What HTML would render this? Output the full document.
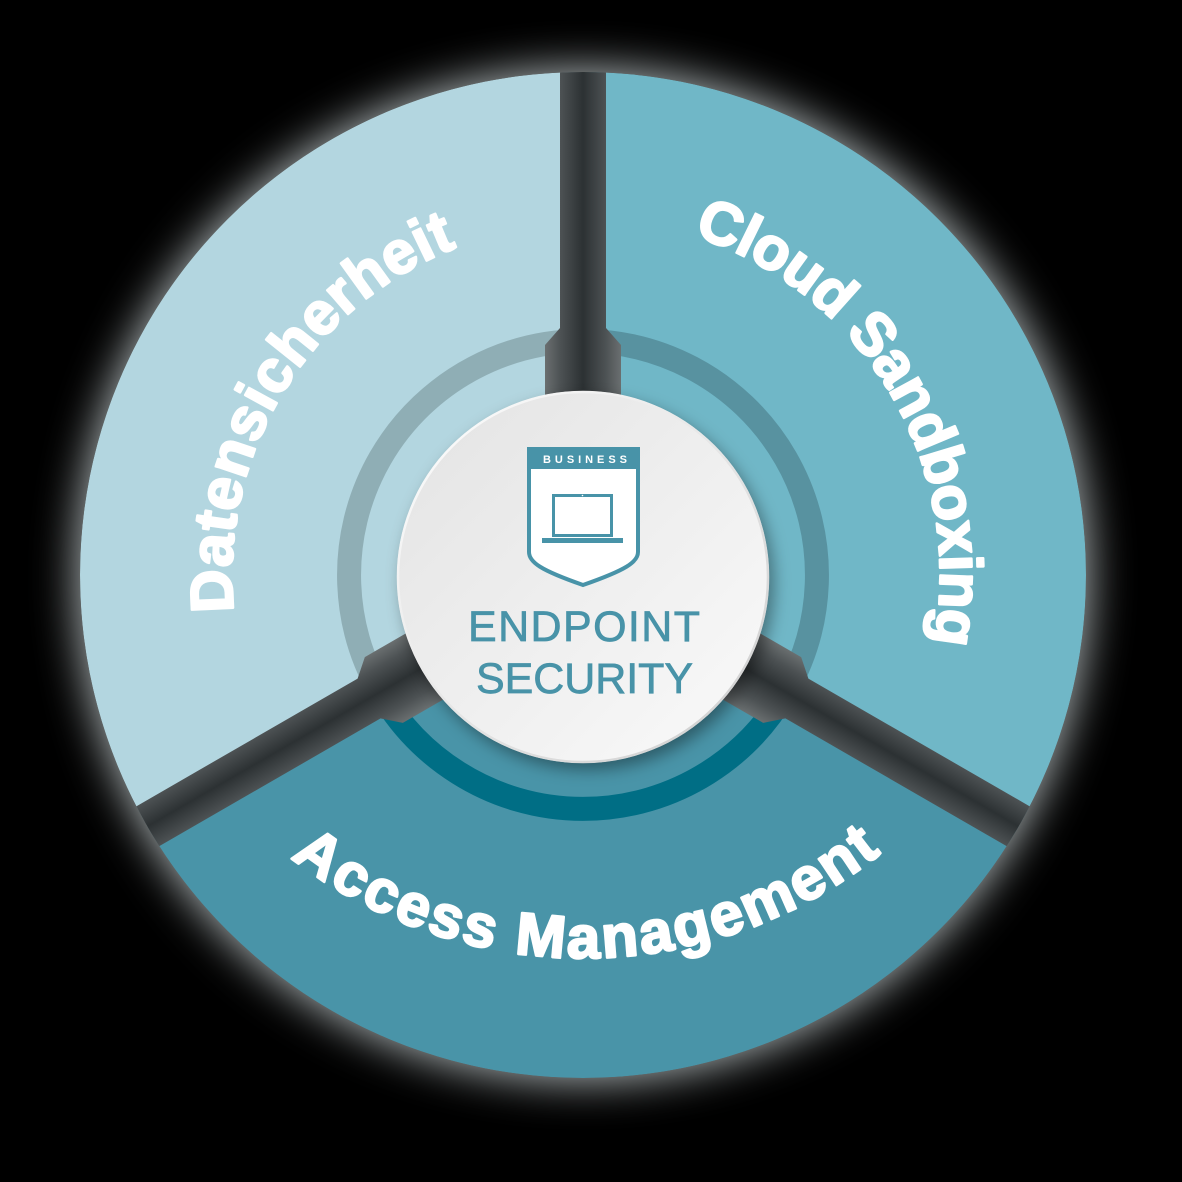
<!DOCTYPE html>
<html>
<head>
<meta charset="utf-8">
<style>
  html, body { margin: 0; padding: 0; background: #000; }
  svg { display: block; }
</style>
</head>
<body>
<svg width="1182" height="1182" viewBox="0 0 1182 1182" xmlns="http://www.w3.org/2000/svg">
  <defs>
    <filter id="glow" x="-30%" y="-30%" width="160%" height="160%">
      <feGaussianBlur stdDeviation="22"/>
    </filter>
    <filter id="ds" x="-30%" y="-30%" width="160%" height="160%">
      <feDropShadow dx="5" dy="7" stdDeviation="8" flood-color="#000" flood-opacity="0.38"/>
    </filter>
    <linearGradient id="gg" gradientUnits="userSpaceOnUse" x1="545" y1="0" x2="621" y2="0">
      <stop offset="0" stop-color="#6a6f70"/>
      <stop offset="0.2" stop-color="#4d5254"/>
      <stop offset="0.5" stop-color="#2c3133"/>
      <stop offset="0.8" stop-color="#4d5254"/>
      <stop offset="1" stop-color="#6a6f70"/>
    </linearGradient>
    <clipPath id="outer"><circle cx="583" cy="575" r="503"/></clipPath>
    <linearGradient id="wc" x1="0" y1="0" x2="1" y2="1">
      <stop offset="0" stop-color="#e3e3e3"/>
      <stop offset="1" stop-color="#fafafa"/>
    </linearGradient>
    <linearGradient id="wr" x1="0" y1="0" x2="1" y2="1">
      <stop offset="0" stop-color="#ffffff"/>
      <stop offset="1" stop-color="#cdcdcd"/>
    </linearGradient>
    <polygon id="gap" points="545,577 545,345 560,328 560,60 606,60 606,328 621,345 621,577"/>
    <path id="pD" d="M233.9,611.7 A351,351 0 0 1 522.1,229.3"/>
    <path id="pC" d="M693.3,235.5 A357,357 0 0 1 918.5,697.1"/>
    <path id="pA" d="M290.6,857.6 A476,476 0 0 0 919.6,818.6"/>
  </defs>

  <rect x="0" y="0" width="1182" height="1182" fill="#000"/>

  <!-- outer glow -->
  <circle cx="583" cy="575" r="505" fill="#b4bcbe" filter="url(#glow)"/>

  <g clip-path="url(#outer)">
    <!-- segments -->
    <path d="M583,575 L583,72 A503,503 0 0 0 147.4,826.5 Z" fill="#b3d6e0"/>
    <path d="M583,575 L583,72 A503,503 0 0 1 1018.6,826.5 Z" fill="#70b7c7"/>
    <path d="M583,575 L147.4,826.5 A503,503 0 0 0 1018.6,826.5 Z" fill="#4994a8"/>

    <!-- inner rings -->
    <path d="M583,341 A234,234 0 0 0 380.4,692" fill="none" stroke="#8faeb5" stroke-width="24"/>
    <path d="M583,341 A234,234 0 0 1 785.6,692" fill="none" stroke="#5892a0" stroke-width="24"/>
    <path d="M380.4,692 A234,234 0 0 0 785.6,692" fill="none" stroke="#006e85" stroke-width="24"/>

    <!-- gaps -->
    <use href="#gap" fill="url(#gg)"/>
    <use href="#gap" fill="url(#gg)" transform="rotate(120 583 575)"/>
    <use href="#gap" fill="url(#gg)" transform="rotate(240 583 575)"/>
  </g>

  <!-- segment labels -->
  <g font-family="'Liberation Sans', sans-serif" font-weight="bold" font-size="60" fill="#ffffff" stroke="#ffffff" stroke-width="2.4" stroke-linejoin="round">
    <text><textPath href="#pD" textLength="459" lengthAdjust="spacing">Datensicherheit</textPath></text>
    <text><textPath href="#pC" textLength="517" lengthAdjust="spacing">Cloud Sandboxing</textPath></text>
    <text><textPath href="#pA" textLength="637" lengthAdjust="spacing">Access Management</textPath></text>
  </g>

  <!-- center white circle -->
  <circle cx="583" cy="577" r="186" fill="url(#wc)" filter="url(#ds)"/>
  <circle cx="583" cy="577" r="185" fill="none" stroke="url(#wr)" stroke-width="2.5"/>

  <!-- shield -->
  <path d="M529,449 V552 C529,562 540,570 583,585 C626,570 638,562 638,552 V449 Z" fill="#ffffff" stroke="#4893a8" stroke-width="4" stroke-linejoin="miter"/>
  <rect x="527" y="447" width="113" height="22" fill="#4893a8"/>
  <text x="543" y="463" font-family="'Liberation Sans', sans-serif" font-weight="bold" font-size="11" fill="#ffffff" textLength="84" lengthAdjust="spacing">BUSINESS</text>

  <!-- laptop -->
  <rect x="553.5" y="495.5" width="58" height="40" fill="none" stroke="#4893a8" stroke-width="3"/>
  <rect x="542" y="538" width="81" height="5" fill="#4893a8"/>
  <circle cx="582.5" cy="495.5" r="0.8" fill="#ffffff"/>

  <!-- center text -->
  <g font-family="'Liberation Sans', sans-serif" font-size="43" fill="#4893a8" stroke="#4893a8" stroke-width="0.7">
    <text x="468" y="641" textLength="232" lengthAdjust="spacing">ENDPOINT</text>
    <text x="476" y="693" textLength="217" lengthAdjust="spacing">SECURITY</text>
  </g>
</svg>
</body>
</html>
